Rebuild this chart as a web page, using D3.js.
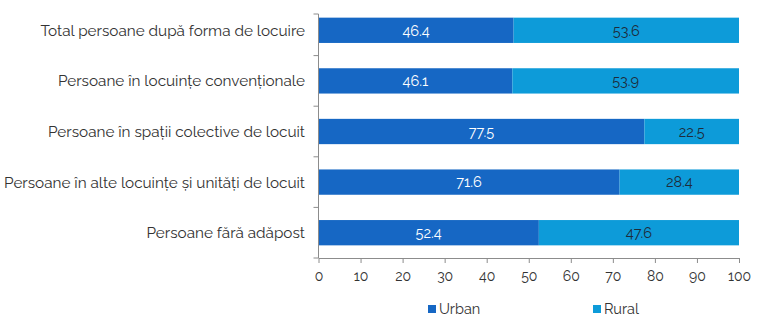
<!DOCTYPE html>
<html>
<head>
<meta charset="utf-8">
<script src="https://cdn.jsdelivr.net/npm/d3@7"></script>
<style>
  body { margin: 0; background: #fff; }
  text { font-family: Raleway, "Open Sans", Lato, sans-serif; }
</style>
</head>
<body>
<div id="chart"></div>
<script>
const categories = [
    "Total persoane după forma de locuire",
    "Persoane în locuințe convenționale",
    "Persoane în spații colective de locuit",
    "Persoane în alte locuințe și unități de locuit",
    "Persoane fără adăpost"
]
const urban = [46.4, 46.1, 77.5, 71.6, 52.4]
const rural = [53.6, 53.9, 22.5, 28.4, 47.6]
const seriesNames = ["Urban", "Rural"]
const xTicks = [0, 10, 20, 30, 40, 50, 60, 70, 80, 90, 100]

const width = 768, height = 325
const color = d3.scaleOrdinal()
    .domain(seriesNames)
    .range(["#1667c4", "#0d9bd9"])

const svg = d3.select("#chart")
    .append("svg")
    .attr("width", width)
    .attr("height", height)

const x = d3.scaleLinear().domain([0, 100]).range([318.5, 739])
const y = d3.scaleBand().domain(categories).range([5, 258]).paddingInner(0.5).paddingOuter(0.25)

const rows = categories.map((c, i) => ({ cat: c, Urban: urban[i], Rural: rural[i] }))
const stacked = d3.stack().keys(seriesNames)(rows)

// bars
const layer = svg.selectAll(".layer")
    .data(stacked)
    .enter()
    .append("g")
    .attr("fill", d => color(d.key))

layer.selectAll("rect")
    .data(d => d)
    .enter()
    .append("rect")
    .attr("x", d => x(d[0]))
    .attr("width", d => x(d[1]) - x(d[0]))
    .attr("y", d => y(d.data.cat))
    .attr("height", y.bandwidth())

// value labels
stacked.forEach(s => {
    svg.selectAll(".lbl-" + s.key)
        .data(s)
        .enter()
        .append("text")
        .attr("x", d => (x(d[0]) + x(d[1])) / 2)
        .attr("y", d => y(d.data.cat) + y.bandwidth() / 2)
        .attr("dy", "0.36em")
        .attr("text-anchor", "middle")
        .attr("font-size", 14.5)
        .attr("fill", s.key === "Urban" ? "#ffffff" : "#1d2b3a")
        .text(d => d.data[s.key].toFixed(1))
})

// y axis: line + separator ticks
const axisColor = "#8c8c8c"
svg.append("line")
    .attr("x1", x(0)).attr("x2", x(0))
    .attr("y1", 14).attr("y2", 258)
    .attr("stroke", axisColor)

const step = y.step()
const bounds = d3.range(1, categories.length + 1).map(i => y.range()[0] + i * step)
svg.selectAll(".ytick")
    .data([14].concat(bounds))
    .enter()
    .append("line")
    .attr("x1", x(0) - 5).attr("x2", x(0))
    .attr("y1", d => d).attr("y2", d => d)
    .attr("stroke", axisColor)

svg.selectAll(".ylabel")
    .data(categories)
    .enter()
    .append("text")
    .attr("x", 305)
    .attr("y", d => y(d) + y.bandwidth() / 2)
    .attr("dy", "0.36em")
    .attr("text-anchor", "end")
    .attr("font-size", 15.3)
    .attr("fill", "#333333")
    .text(d => d)

// x axis
const xAxis = svg.append("g")
    .attr("transform", "translate(0,258)")
    .call(d3.axisBottom(x).tickValues(xTicks).tickSize(5).tickSizeOuter(0).tickPadding(8))
xAxis.select(".domain").attr("stroke", axisColor)
xAxis.selectAll(".tick line").attr("stroke", axisColor)
xAxis.selectAll(".tick text")
    .attr("font-size", 14)
    .attr("font-family", "Raleway, 'Open Sans', Lato, sans-serif")
    .attr("fill", "#333333")

// legend
const legendX = [428, 593]
const legend = svg.selectAll(".legend")
    .data(seriesNames)
    .enter()
    .append("g")
    .attr("transform", (d, i) => `translate(${legendX[i]},309)`)

legend.append("rect")
    .attr("x", 0).attr("y", -4)
    .attr("width", 8).attr("height", 8)
    .attr("fill", d => color(d))

legend.append("text")
    .attr("x", 11)
    .attr("dy", "0.36em")
    .attr("font-size", 14.5)
    .attr("fill", "#333333")
    .text(d => d)
</script>
</body>
</html>
